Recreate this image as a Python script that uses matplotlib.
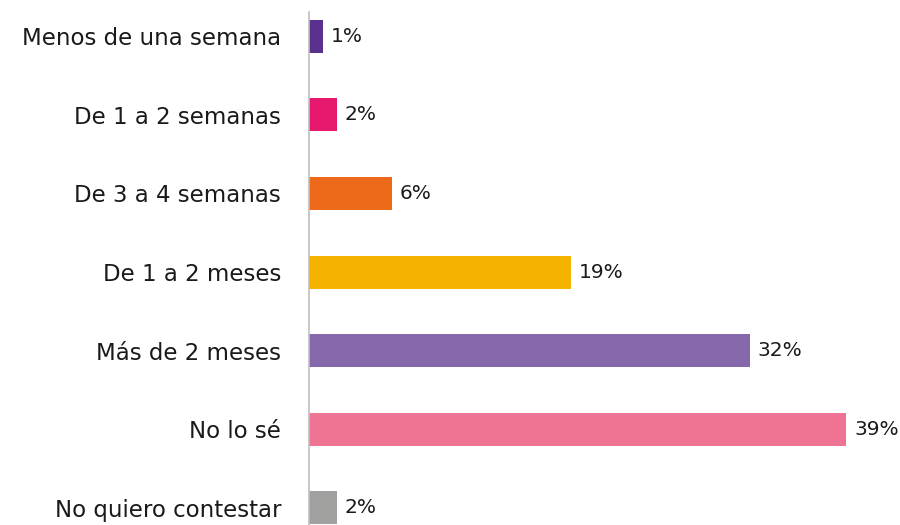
import matplotlib
matplotlib.use('Agg') # no GUI window
import matplotlib.pyplot as plt

categories = ["Menos de una semana", "De 1 a 2 semanas", "De 3 a 4 semanas",
              "De 1 a 2 meses", "Más de 2 meses", "No lo sé", "No quiero contestar"]
values = [1, 2, 6, 19, 32, 39, 2]
colors = ['#5B3190', '#E5186D', '#EC6A1A', '#F5B300', '#8468AB', '#EF7494', '#A0A09F']

plt.rcParams['font.family'] = ['DejaVu Sans']

fig = plt.figure(figsize=(9, 5.25), dpi=100)
ax = fig.add_axes([309 / 900, 0, 1 - 309 / 900, 1 - 12 / 525])

pos = list(range(len(categories)))
ax.barh(pos, values, height=0.42, color=colors)

# value labels just right of each bar
for p, v in zip(pos, values):
    ax.text(v + 0.6, p, f"{v}%", va='center', ha='left', fontsize=14.5, color='#1a1a1a')

ax.set_yticks(pos)
ax.set_yticklabels(categories, fontsize=16.5, color='#1a1a1a')
ax.tick_params(axis='y', length=0, pad=20)
ax.set_xlim(0, 591 / (537 / 39))
ax.set_ylim(6.22, -0.31)
ax.set_xticks([])

for s in ['top', 'right', 'bottom']:
    ax.spines[s].set_visible(False)
ax.spines['left'].set_color('#BFBFBF')
ax.spines['left'].set_linewidth(1.2)

fig.savefig('out.png', dpi=100)
